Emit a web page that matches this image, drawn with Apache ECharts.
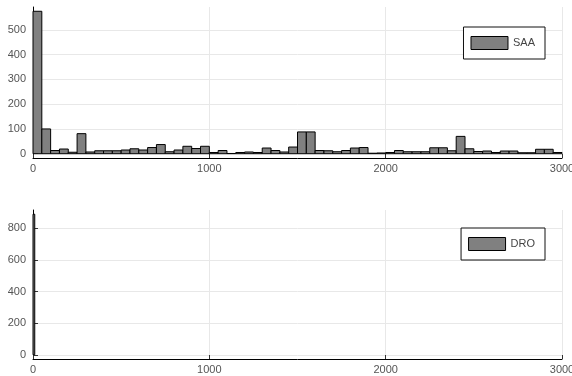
<!DOCTYPE html>
<html>
<head>
<meta charset="utf-8">
<script src="https://cdn.jsdelivr.net/npm/echarts@6/dist/echarts.min.js"></script>
<style>
  html, body { margin: 0; padding: 0; background: #fff; }
  #chart { width: 572px; height: 376px; }
</style>
</head>
<body>
<div id="chart"></div>
<script>
// Histogram counts per bin (bins start at 0)
const saaBinWidth = 50;
const saaCounts = [
  575, 100, 13, 19, 6, 81, 7, 12, 12, 12,
  15, 20, 15, 25, 37, 8, 15, 30, 21, 30,
  5, 13, 1, 5, 7, 5, 23, 13, 7, 27,
  88, 88, 13, 12, 8, 13, 23, 25, 2, 3,
  5, 13, 8, 8, 8, 24, 24, 12, 70, 20,
  9, 11, 5, 11, 11, 4, 4, 18, 18, 5
];
const droBinWidth = 10;
const droCounts = [890];

// Axis ticks
const xTicks = [0, 1000, 2000, 3000];
const saaYTicks = [0, 100, 200, 300, 400, 500];
const droYTicks = [0, 200, 400, 600, 800];

// Histogram bins as [start, end, count]
function toBins(width, counts) {
  return counts.map((c, i) => [i * width, (i + 1) * width, c]);
}

// Axis limits padded 3% on each side of the count range
function paddedRange(counts) {
  const hi = Math.max(...counts);
  return [-0.03 * hi, 1.03 * hi];
}

function renderBin(params, api) {
  const top = api.coord([api.value(0), api.value(2)]);
  const base = api.coord([api.value(1), 0]);
  return {
    type: 'rect',
    shape: { x: top[0], y: top[1], width: base[0] - top[0], height: base[1] - top[1] },
    style: { fill: '#808080', stroke: '#000', lineWidth: 1 }
  };
}

const labelFont = { fontFamily: 'Liberation Sans, Arial, sans-serif', fontSize: 11, color: '#555' };
const gridLine = { show: true, lineStyle: { color: '#e8e8e8', width: 1 } };
const plainNumber = v => String(v);

function xAxisFor(gridIndex) {
  return {
    type: 'value', gridIndex, min: 0, max: 3000,
    axisLine: { show: true, onZero: false, lineStyle: { color: '#000', width: 1 } },
    axisTick: { show: true, inside: true, length: 4, customValues: xTicks, lineStyle: { color: '#333' } },
    axisLabel: { ...labelFont, margin: 5, customValues: xTicks, formatter: plainNumber },
    splitLine: gridLine
  };
}

function yAxisFor(gridIndex, ticks, range) {
  return {
    type: 'value', gridIndex, min: range[0], max: range[1],
    axisLine: { show: true, onZero: false, lineStyle: { color: '#000', width: 1 } },
    axisTick: { show: true, inside: true, length: 5, customValues: ticks, lineStyle: { color: '#333' } },
    axisLabel: { ...labelFont, margin: 7, customValues: ticks, formatter: plainNumber },
    splitLine: gridLine
  };
}

function legendFor(name, top) {
  return {
    data: [{ name, icon: 'rect' }],
    right: 27, top,
    orient: 'horizontal',
    backgroundColor: '#fff',
    borderColor: '#111', borderWidth: 1, borderRadius: 0,
    padding: [9, 10, 9, 7],
    itemWidth: 37, itemHeight: 13,
    itemStyle: { color: '#808080', borderColor: '#000', borderWidth: 1 },
    textStyle: { fontFamily: 'Liberation Sans, Arial, sans-serif', fontSize: 11, color: '#444' }
  };
}

const chart = echarts.init(document.getElementById('chart'), null, { renderer: 'canvas' });
chart.setOption({
  animation: false,
  backgroundColor: '#fff',
  grid: [
    { left: 33, right: 10, top: 7, height: 151, containLabel: false, outerBoundsMode: 'none' },
    { left: 33, right: 10, top: 210, height: 149, containLabel: false, outerBoundsMode: 'none' }
  ],
  xAxis: [xAxisFor(0), xAxisFor(1)],
  yAxis: [
    yAxisFor(0, saaYTicks, paddedRange(saaCounts)),
    yAxisFor(1, droYTicks, paddedRange(droCounts))
  ],
  legend: [legendFor('SAA', 27), legendFor('DRO', 228)],
  series: [
    {
      name: 'SAA', type: 'custom', xAxisIndex: 0, yAxisIndex: 0,
      itemStyle: { color: '#808080' },
      renderItem: renderBin,
      encode: { x: [0, 1], y: 2 },
      data: toBins(saaBinWidth, saaCounts)
    },
    {
      name: 'DRO', type: 'custom', xAxisIndex: 1, yAxisIndex: 1,
      itemStyle: { color: '#808080' },
      renderItem: renderBin,
      encode: { x: [0, 1], y: 2 },
      data: toBins(droBinWidth, droCounts)
    }
  ]
});
</script>
</body>
</html>
